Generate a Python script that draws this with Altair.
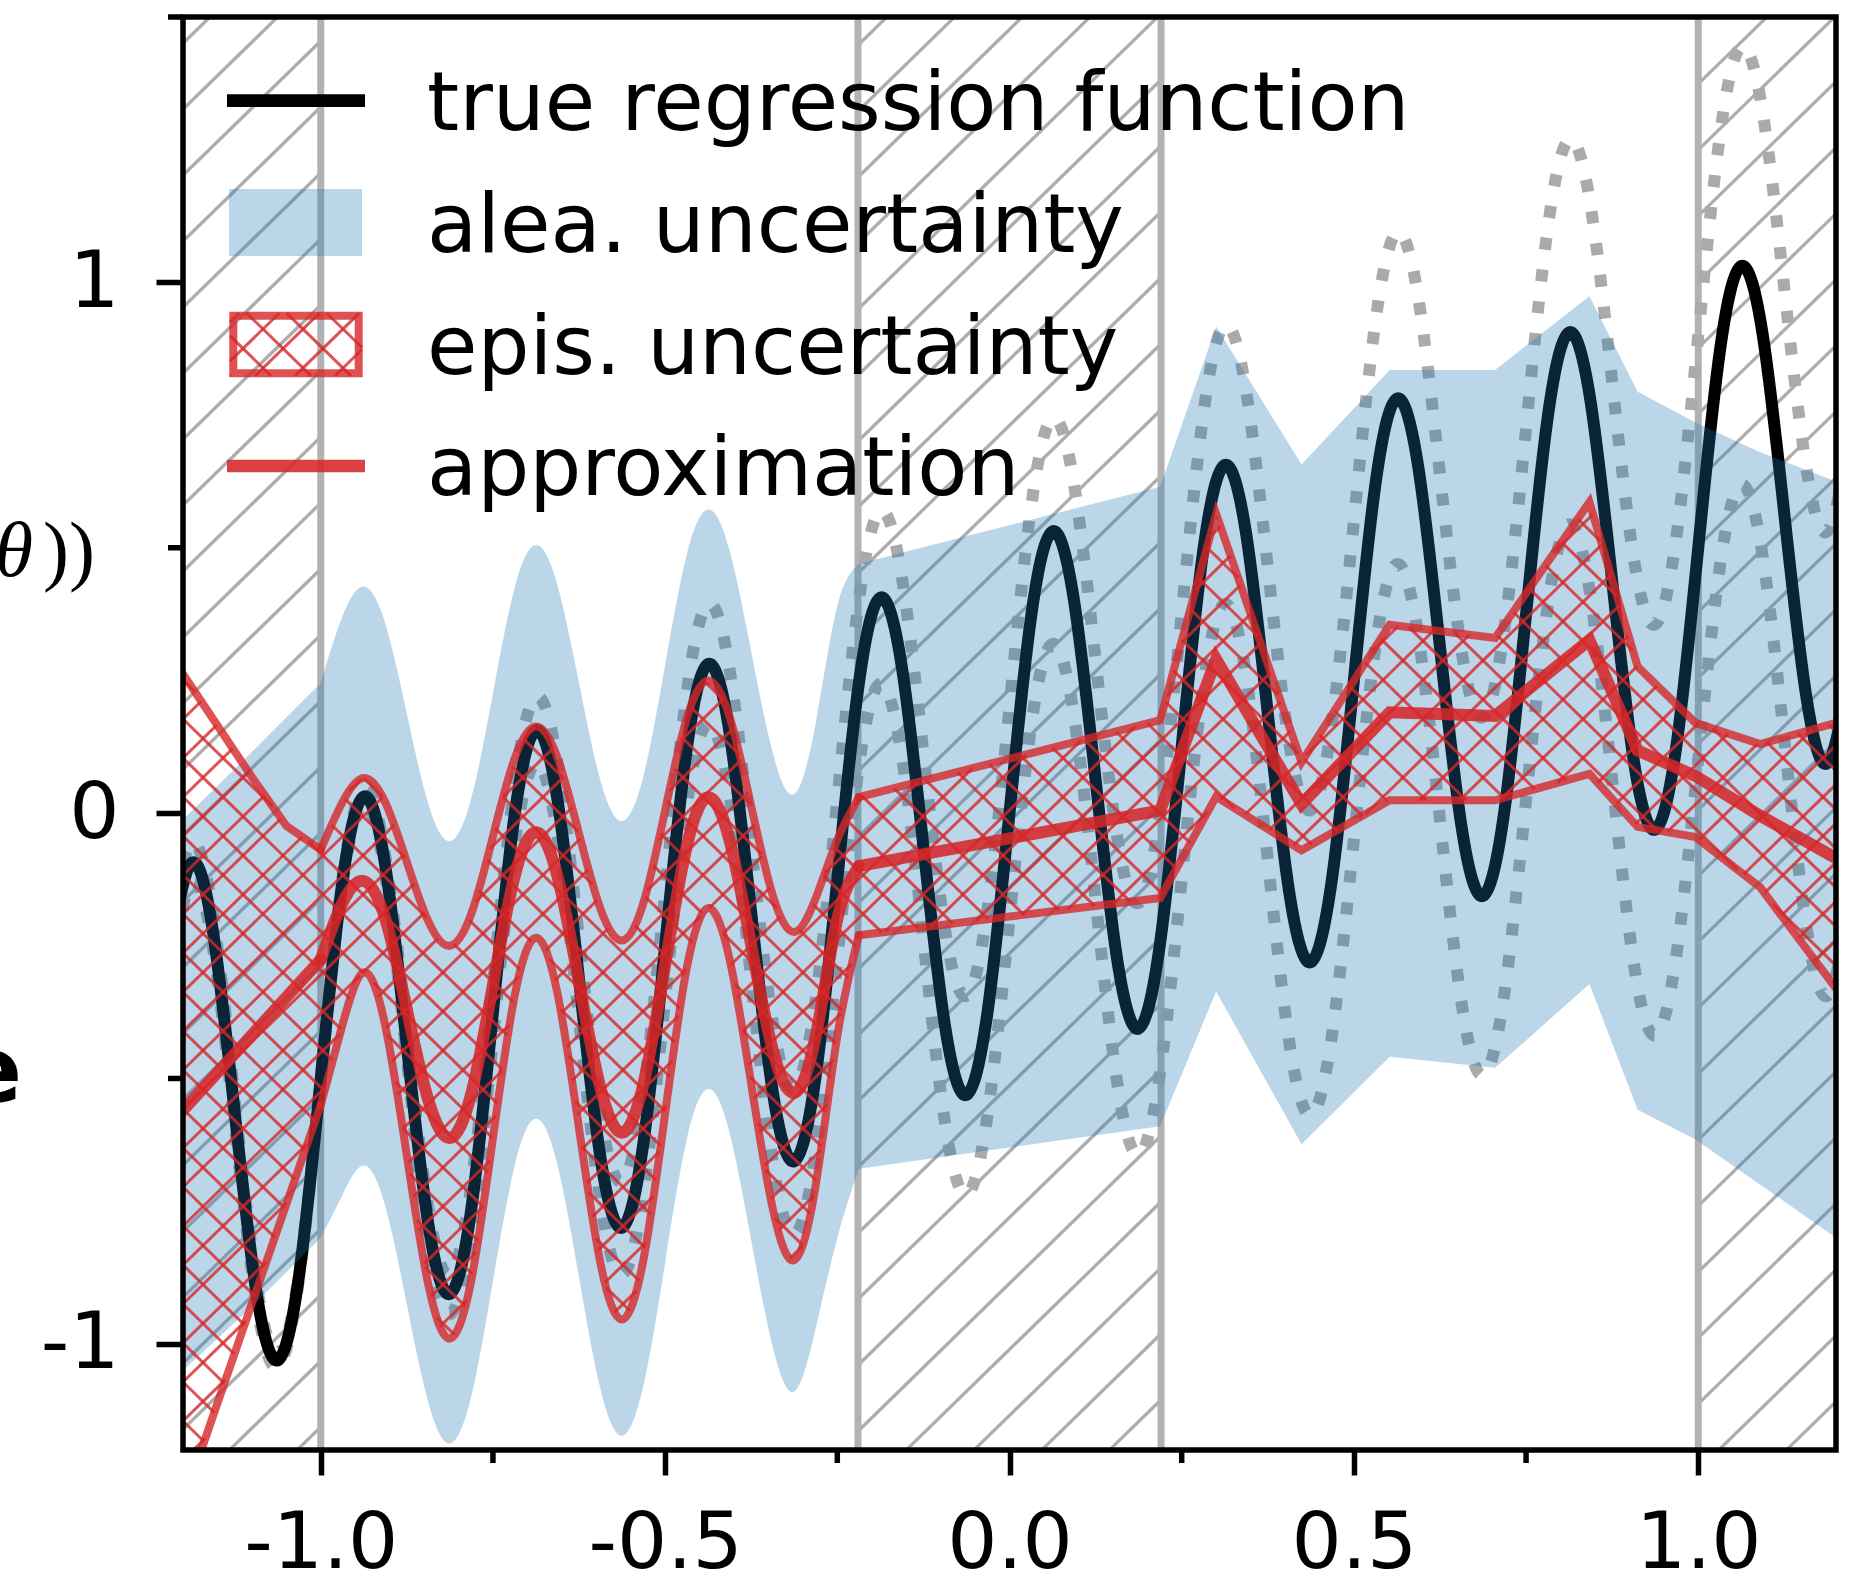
import numpy as np
import pandas as pd
import altair as alt

# ---------------- plot geometry ----------------
X0, X1 = -1.2, 1.2
Y0, Y1 = -1.2, 1.5
W, H = 1653, 1433

# ---------------- data ----------------
curve_x = [k / 32 for k in range(-39, 40)]
true_y = [-0.256, -0.094, -0.225, -0.563, -0.900, -1.031, -0.869, -0.500, -0.131, 0.031,
          -0.100, -0.438, -0.775, -0.906, -0.744, -0.375, -0.006, 0.156, 0.025, -0.313,
          -0.650, -0.781, -0.619, -0.250, 0.119, 0.281, 0.150, -0.188, -0.525, -0.656,
          -0.494, -0.125, 0.244, 0.406, 0.275, -0.063, -0.400, -0.531, -0.369, 0.000,
          0.369, 0.531, 0.400, 0.063, -0.275, -0.406, -0.244, 0.125, 0.494, 0.656,
          0.525, 0.188, -0.150, -0.281, -0.119, 0.250, 0.619, 0.781, 0.650, 0.313,
          -0.025, -0.156, 0.006, 0.375, 0.744, 0.906, 0.775, 0.438, 0.100, -0.031,
          0.131, 0.500, 0.869, 1.031, 0.900, 0.563, 0.225, 0.094, 0.256]
noise_hi = [-0.300, -0.131, -0.256, -0.588, -0.919, -1.044, -0.875, -0.500, -0.125, 0.044,
            -0.081, -0.413, -0.744, -0.869, -0.700, -0.325, 0.050, 0.219, 0.094, -0.238,
            -0.569, -0.694, -0.525, -0.150, 0.225, 0.394, 0.269, -0.063, -0.394, -0.519,
            -0.350, 0.025, 0.400, 0.569, 0.444, 0.113, -0.219, -0.344, -0.175, 0.200,
            0.575, 0.744, 0.619, 0.288, -0.044, -0.169, 0.000, 0.375, 0.750, 0.919,
            0.794, 0.463, 0.131, 0.006, 0.175, 0.550, 0.925, 1.094, 0.969, 0.638,
            0.306, 0.181, 0.350, 0.725, 1.100, 1.269, 1.144, 0.813, 0.481, 0.356,
            0.525, 0.900, 1.275, 1.444, 1.319, 0.988, 0.656, 0.531, 0.700]
noise_lo = [-0.212, -0.056, -0.193, -0.538, -0.882, -1.019, -0.863, -0.500, -0.137, 0.019,
            -0.118, -0.463, -0.807, -0.944, -0.788, -0.425, -0.062, 0.094, -0.043, -0.388,
            -0.732, -0.869, -0.713, -0.350, 0.013, 0.169, 0.032, -0.313, -0.657, -0.794,
            -0.638, -0.275, 0.088, 0.244, 0.107, -0.238, -0.582, -0.719, -0.563, -0.200,
            0.163, 0.319, 0.182, -0.163, -0.507, -0.644, -0.488, -0.125, 0.238, 0.394,
            0.257, -0.088, -0.432, -0.569, -0.413, -0.050, 0.313, 0.469, 0.332, -0.013,
            -0.357, -0.494, -0.338, 0.025, 0.388, 0.544, 0.407, 0.063, -0.282, -0.419,
            -0.263, 0.100, 0.463, 0.619, 0.482, 0.138, -0.207, -0.344, -0.188]

# three pieces: left (linear), in-distribution smooth part, right (linear)
left_x = [-1.2, -1.1, -1.05, -1.0]
smooth_x = [k / 32 for k in range(-32, -6)]
right_x = [-0.21875, 0.21875, 0.30, 0.424, 0.552, 0.705, 0.842, 0.912, 0.996, 1.09, 1.2]

alea_up_left = [-0.012, 0.115, 0.18, 0.245]
alea_lo_left = [-1.05, -0.93, -0.865, -0.80]
alea_up_smooth = [0.245, 0.37, 0.427, 0.357, 0.187, 0.017, -0.053, 0.029, 0.226, 0.423,
                  0.505, 0.429, 0.245, 0.061, -0.015, 0.071, 0.279, 0.486, 0.572, 0.494,
                  0.304, 0.114, 0.036, 0.17, 0.39, 0.47]
alea_lo_smooth = [-0.80, -0.72, -0.664, -0.741, -0.926, -1.111, -1.188, -1.098, -0.882, -0.666,
                  -0.576, -0.663, -0.875, -1.086, -1.173, -1.077, -0.847, -0.616, -0.52, -0.603,
                  -0.805, -1.006, -1.09, -0.97, -0.80, -0.67]
alea_up_right = [0.47, 0.615, 0.917, 0.657, 0.835, 0.835, 0.974, 0.794, 0.736, 0.68, 0.625]
alea_lo_right = [-0.67, -0.59, -0.336, -0.624, -0.459, -0.48, -0.322, -0.559, -0.615, -0.70, -0.80]

epis_up_left = [0.262, 0.068, -0.024, -0.069]
epis_lo_left = [-1.30, -0.924, -0.737, -0.55]
epis_up_smooth = [-0.069, 0.02, 0.066, 0.020, -0.092, -0.204, -0.25, -0.189, -0.044, 0.102,
                  0.163, 0.104, -0.039, -0.181, -0.24, -0.168, 0.005, 0.178, 0.25, 0.181,
                  0.013, -0.155, -0.224, -0.16, -0.05, 0.03]
epis_lo_smooth = [-0.55, -0.40, -0.30, -0.401, -0.645, -0.889, -0.99, -0.879, -0.612, -0.346,
                  -0.235, -0.340, -0.594, -0.849, -0.954, -0.840, -0.566, -0.293, -0.179, -0.276,
                  -0.51, -0.745, -0.842, -0.70, -0.42, -0.23]
epis_up_right = [0.03, 0.175, 0.564, 0.096, 0.355, 0.33, 0.586, 0.276, 0.17, 0.13, 0.17]
epis_lo_right = [-0.23, -0.16, 0.031, -0.07, 0.024, 0.024, 0.074, -0.026, -0.045, -0.14, -0.33]

mean_left = [-0.56, -0.418, -0.347, -0.276]
mean_smooth = [-0.276, -0.17, -0.128, -0.199, -0.37, -0.541, -0.612, -0.528, -0.324, -0.120,
               -0.036, -0.119, -0.319, -0.519, -0.602, -0.509, -0.286, -0.063, 0.030, -0.052,
               -0.249, -0.446, -0.527, -0.42, -0.20, -0.10]
mean_right = [-0.10, 0.005, 0.29, 0.017, 0.19, 0.183, 0.326, 0.118, 0.07, -0.005, -0.085]

ood_regions = [(-1.2, -1.0), (-0.22, 0.22), (1.0, 1.2)]
boundaries = [-1.0, -0.22, 0.22, 1.0]

x_major = [-1.0, -0.5, 0.0, 0.5, 1.0]
x_minor = [-0.75, -0.25, 0.25, 0.75]
y_major = [-1, 0, 1]
y_minor = [-0.5, 0.5, 1.5]

legend_labels = ["true regression function", "alea. uncertainty",
                 "epis. uncertainty", "approximation"]

# ---------------- helpers ----------------
RED = "#d62728"
BLUE = "#1f77b4"


def to_px(x, y):
    x = np.asarray(x, float)
    y = np.asarray(y, float)
    return (x - X0) / (X1 - X0) * W, (Y1 - y) / (Y1 - Y0) * H


def to_data(px, py):
    return X0 + np.asarray(px) / W * (X1 - X0), Y1 - np.asarray(py) / H * (Y1 - Y0)


def ctrl(v):
    v = list(v)
    n = len(v) - 1
    a = [0.0] * n
    b = [0.0] * n
    r = [0.0] * n
    a[0], b[0], r[0] = 0.0, 2.0, v[0] + 2 * v[1]
    for i in range(1, n - 1):
        a[i], b[i], r[i] = 1.0, 4.0, 4 * v[i] + 2 * v[i + 1]
    a[n - 1], b[n - 1], r[n - 1] = 2.0, 7.0, 8 * v[n - 1] + v[n]
    for i in range(1, n):
        m = a[i] / b[i - 1]
        b[i] -= m
        r[i] -= m * r[i - 1]
    a[n - 1] = r[n - 1] / b[n - 1]
    for i in range(n - 2, -1, -1):
        a[i] = (r[i] - a[i + 1]) / b[i]
    b[n - 1] = (v[n] + a[n - 1]) / 2
    for i in range(n - 1):
        b[i] = 2 * v[i + 1] - a[i + 1]
    return a, b


def natural_path(xs, ys, per=24):
    """The same curve Vega draws with interpolate='natural' (d3.curveNatural)."""
    ax, bx = ctrl(xs)
    ay, by = ctrl(ys)
    t = np.linspace(0, 1, per, endpoint=False)
    u = 1 - t
    px, py = [], []
    for i in range(len(xs) - 1):
        px.extend(u ** 3 * xs[i] + 3 * u * u * t * ax[i] + 3 * u * t * t * bx[i] + t ** 3 * xs[i + 1])
        py.extend(u ** 3 * ys[i] + 3 * u * u * t * ay[i] + 3 * u * t * t * by[i] + t ** 3 * ys[i + 1])
    px.append(xs[-1])
    py.append(ys[-1])
    return np.array(px), np.array(py)


def hatch(slope, step, phase, xa, xb, top_fn, bot_fn):
    xs = np.linspace(xa, xb, int((xb - xa) * 4) + 2)
    yt = top_fn(xs)
    yb = bot_fn(xs)
    cs = [-slope * xa, -slope * xb, H - slope * xa, H - slope * xb]
    nlo = int(np.floor((min(cs) - phase) / step)) - 1
    nhi = int(np.ceil((max(cs) - phase) / step)) + 1
    segs = []
    for n in range(nlo, nhi + 1):
        ys = phase + n * step + slope * xs
        ins = (ys >= yt) & (ys <= yb)
        if not ins.any():
            continue
        d = np.diff(np.concatenate([[0], ins.astype(np.int8), [0]]))
        st = np.flatnonzero(d == 1)
        en = np.flatnonzero(d == -1) - 1
        for s, e in zip(st, en):
            if e > s:
                segs.append((xs[s], ys[s], xs[e], ys[e]))
    return segs


def segs_to_df(segs):
    a = np.array(segs)
    x, y = to_data(a[:, 0], a[:, 1])
    x2, y2 = to_data(a[:, 2], a[:, 3])
    return pd.DataFrame({"x": x, "y": y, "x2": x2, "y2": y2})


# ---------------- scales / axes ----------------
XS = alt.Scale(domain=[X0, X1], nice=False, zero=False)
YS = alt.Scale(domain=[Y0, Y1], nice=False, zero=False)
X_AX = alt.Axis(values=x_major, title=None, grid=False, domain=False,
                labelExpr="datum.value < 0 ? '-' + format(-datum.value, '.1f') : format(datum.value, '.1f')",
                tickSize=25, tickWidth=5.5, tickColor="black", labelFont="DejaVu Sans",
                labelFontSize=79, labelColor="black", labelPadding=30, labelFlush=False,
                labelOverlap=False)
Y_AX = alt.Axis(values=y_major, title=None, grid=False, domain=False,
                labelExpr="datum.value < 0 ? '-' + format(-datum.value, 'd') : format(datum.value, 'd')",
                tickSize=27, tickWidth=5.5, tickColor="black", labelFont="DejaVu Sans",
                labelFontSize=79, labelColor="black", labelPadding=37, labelFlush=False,
                labelOverlap=False)


def X(f):
    return alt.X(f, type="quantitative", scale=XS, axis=X_AX)


def Y(f):
    return alt.Y(f, type="quantitative", scale=YS, axis=Y_AX)


layers = []

# ---- hatched out-of-distribution regions ----
hs = []
for a, b in ood_regions:
    pa, _ = to_px([a], [0])
    pb, _ = to_px([b], [0])
    hs += hatch(-0.975, 66.0, 158.3, pa[0], pb[0],
                lambda xs: np.zeros_like(xs), lambda xs: np.full_like(xs, H))
layers.append(alt.Chart(segs_to_df(hs)).mark_rule(color="#adadad", strokeWidth=3.3).encode(
    x=X("x"), y=Y("y"), x2="x2", y2="y2"))

layers.append(alt.Chart(pd.DataFrame({"b": boundaries})).mark_rule(
    color="#b2b2b2", strokeWidth=7).encode(x=X("b")))

# ---- noise (dotted) and true function ----
noise_df = pd.DataFrame({"x": curve_x * 2, "y": noise_hi + noise_lo,
                         "s": ["hi"] * len(curve_x) + ["lo"] * len(curve_x)})
layers.append(alt.Chart(noise_df).mark_line(
    color="#aaaaaa", strokeWidth=12, strokeDash=[12, 20], interpolate="natural",
    clip=True).encode(x=X("x"), y=Y("y"), detail="s:N"))

layers.append(alt.Chart(pd.DataFrame({"x": curve_x, "y": true_y})).mark_line(
    color="black", strokeWidth=12, interpolate="natural", clip=True).encode(
    x=X("x"), y=Y("y")))

# ---- aleatoric band ----
alea_lin = pd.DataFrame({
    "x": left_x + right_x, "lo": alea_lo_left + alea_lo_right,
    "up": alea_up_left + alea_up_right,
    "seg": ["l"] * len(left_x) + ["r"] * len(right_x)})
layers.append(alt.Chart(alea_lin).mark_area(color=BLUE, opacity=0.3, clip=True).encode(
    x=X("x"), y=Y("up"), y2="lo", detail="seg:N"))
layers.append(alt.Chart(pd.DataFrame({"x": smooth_x, "up": alea_up_smooth, "lo": alea_lo_smooth}))
              .mark_area(color=BLUE, opacity=0.3, interpolate="natural", clip=True)
              .encode(x=X("x"), y=Y("up"), y2="lo"))

# ---- epistemic band: crosshatch clipped to the band ----
def full_boundary(lv, sv, rv):
    sx, sy = natural_path(smooth_x, sv)
    xx = np.concatenate([left_x, sx, right_x])
    yy = np.concatenate([lv, sy, rv])
    return to_px(xx, yy)


upx, upy = full_boundary(epis_up_left, epis_up_smooth, epis_up_right)
lox, loy = full_boundary(epis_lo_left, epis_lo_smooth, epis_lo_right)
S = 0.975
XH_STEP = 40.0
xh = []
for sl in (S, -S):
    xh += hatch(sl, XH_STEP * S, 0.0, 0.0, float(W),
                lambda xs: np.maximum(np.interp(xs, upx, upy), 0.0),
                lambda xs: np.minimum(np.interp(xs, lox, loy), float(H)))
layers.append(alt.Chart(segs_to_df(xh)).mark_rule(color=RED, opacity=0.8, strokeWidth=3).encode(
    x=X("x"), y=Y("y"), x2="x2", y2="y2"))

edge_lin = pd.DataFrame({
    "x": left_x * 2 + right_x * 2,
    "y": epis_up_left + epis_lo_left + epis_up_right + epis_lo_right,
    "seg": ["lu"] * 4 + ["ll"] * 4 + ["ru"] * len(right_x) + ["rl"] * len(right_x)})
layers.append(alt.Chart(edge_lin).mark_line(color=RED, opacity=0.8, strokeWidth=8,
                                            strokeCap="round", clip=True).encode(
    x=X("x"), y=Y("y"), detail="seg:N"))
edge_nat = pd.DataFrame({"x": smooth_x * 2, "y": epis_up_smooth + epis_lo_smooth,
                         "seg": ["u"] * len(smooth_x) + ["l"] * len(smooth_x)})
layers.append(alt.Chart(edge_nat).mark_line(color=RED, opacity=0.8, strokeWidth=8,
                                            strokeCap="round", interpolate="natural",
                                            clip=True).encode(
    x=X("x"), y=Y("y"), detail="seg:N"))

# ---- approximation ----
mean_lin = pd.DataFrame({"x": left_x + right_x, "y": mean_left + mean_right,
                         "seg": ["l"] * len(left_x) + ["r"] * len(right_x)})
layers.append(alt.Chart(mean_lin).mark_line(color=RED, opacity=0.88, strokeWidth=12,
                                            strokeCap="round", clip=True).encode(
    x=X("x"), y=Y("y"), detail="seg:N"))
layers.append(alt.Chart(pd.DataFrame({"x": smooth_x, "y": mean_smooth})).mark_line(
    color=RED, opacity=0.88, strokeWidth=12, strokeCap="round", interpolate="natural",
    clip=True).encode(x=X("x"), y=Y("y")))

# ---------------- legend (drawn by hand) ----------------
one = pd.DataFrame({"a": [0]})
ROW = [83.7, 205.5, 327.5, 449.0]
layers.append(alt.Chart(one).mark_rule(color="black", strokeWidth=12.7).encode(
    x=alt.value(44), x2=alt.value(182), y=alt.value(ROW[0])))
layers.append(alt.Chart(one).mark_rect(color=BLUE, opacity=0.3).encode(
    x=alt.value(46), x2=alt.value(179), y=alt.value(172), y2=alt.value(239)))
lg = []
for sl in (S, -S):
    lg += hatch(sl, XH_STEP * S, 0.0, 47.0, 179.0,
                lambda xs: np.full_like(xs, 296.0), lambda xs: np.full_like(xs, 359.0))
layers.append(alt.Chart(segs_to_df(lg)).mark_rule(color=RED, opacity=0.8, strokeWidth=3).encode(
    x=X("x"), y=Y("y"), x2="x2", y2="y2"))
layers.append(alt.Chart(one).mark_rect(fillOpacity=0, stroke=RED, strokeOpacity=0.8,
                                       strokeWidth=8).encode(
    x=alt.value(50.3), x2=alt.value(175.7), y=alt.value(298.7), y2=alt.value(356.3)))
layers.append(alt.Chart(one).mark_rule(color=RED, opacity=0.88, strokeWidth=12.7).encode(
    x=alt.value(44), x2=alt.value(182), y=alt.value(ROW[3])))
for lab, yy in zip(legend_labels, ROW):
    layers.append(alt.Chart(pd.DataFrame({"t": [lab]})).mark_text(
        align="left", baseline="alphabetic", font="DejaVu Sans", fontSize=82,
        color="black").encode(x=alt.value(244), y=alt.value(yy + 29.3), text="t:N"))

# ---------------- minor ticks, frame, clipped y-label ----------------
layers.append(alt.Chart(pd.DataFrame({"v": x_minor})).mark_rule(
    color="black", strokeWidth=5.5).encode(x=X("v"), y=alt.value(H), y2=alt.value(H + 13)))
layers.append(alt.Chart(pd.DataFrame({"v": y_minor})).mark_rule(
    color="black", strokeWidth=5.5).encode(y=Y("v"), x=alt.value(0), x2=alt.value(-15)))
layers.append(alt.Chart(one).mark_rect(fillOpacity=0, stroke="black", strokeWidth=5.5).encode(
    x=alt.value(0), x2=alt.value(W), y=alt.value(0), y2=alt.value(H)))
layers.append(alt.Chart(pd.DataFrame({"t": ["\u03b8"]})).mark_text(
    align="right", baseline="middle", font="Liberation Serif", fontStyle="italic",
    fontSize=78, color="black").encode(x=alt.value(-150), y=alt.value(536), text="t:N"))
layers.append(alt.Chart(pd.DataFrame({"t": ["))"]})).mark_text(
    align="right", baseline="middle", font="Liberation Serif", fontSize=78,
    color="black").encode(x=alt.value(-88), y=alt.value(536), text="t:N"))
layers.append(alt.Chart(pd.DataFrame({"t": ["e"]})).mark_text(
    align="right", baseline="alphabetic", font="DejaVu Sans", fontWeight="bold",
    fontSize=90, color="black").encode(x=alt.value(-161), y=alt.value(1085), text="t:N"))

chart = alt.layer(*layers).properties(
    width=W, height=H,
    autosize=alt.AutoSizeParams(type="none"),
    padding={"left": 183, "top": 17, "right": 24, "bottom": 135},
    background="white",
).configure_view(stroke=None)

chart.save("out.html", embed_options={"renderer": "svg", "actions": False})
